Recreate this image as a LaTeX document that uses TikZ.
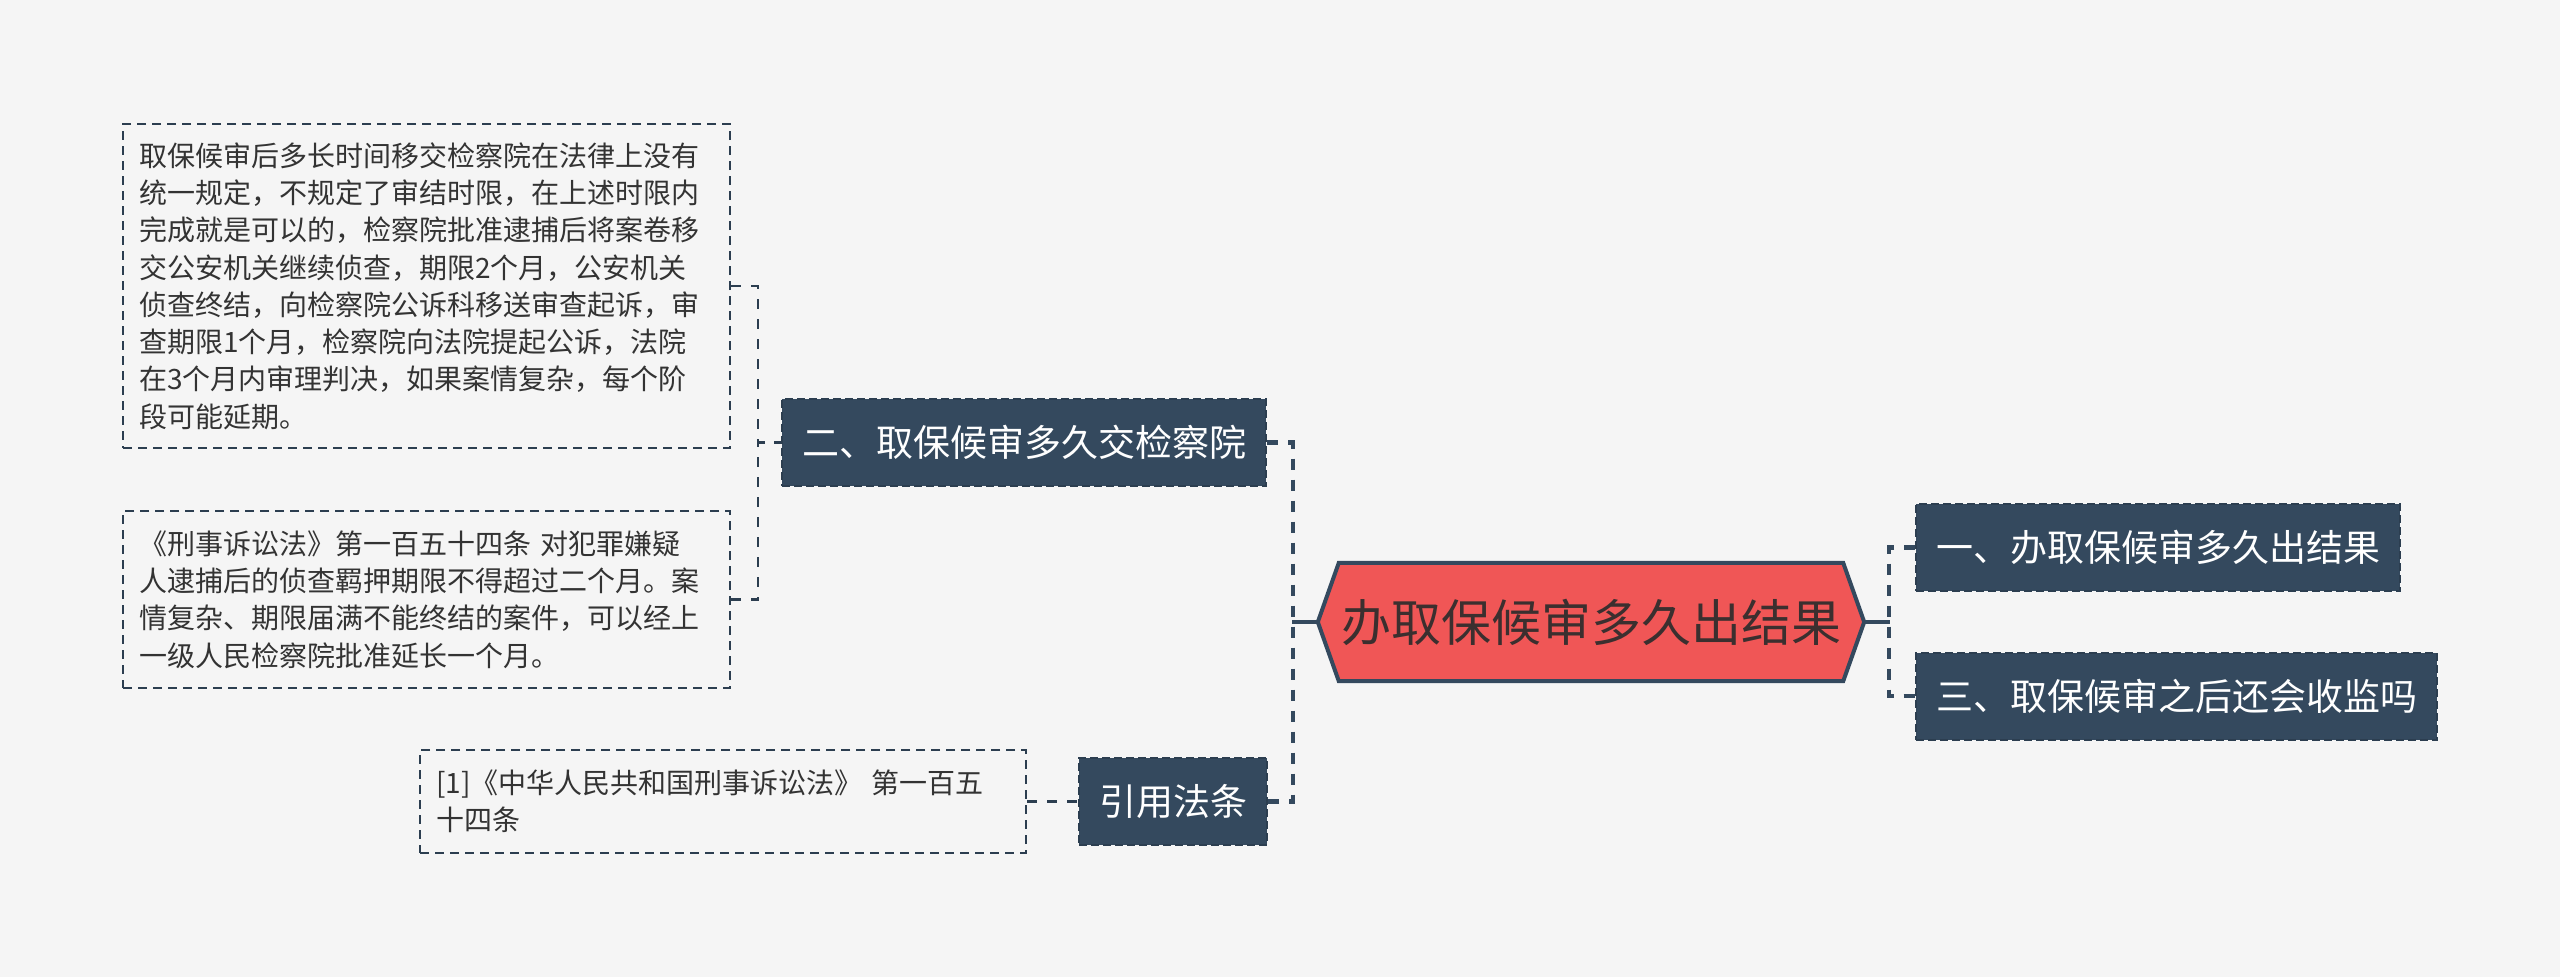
\documentclass[tikz,border=0pt]{standalone}
\usepackage{fontspec}
\setmainfont{Noto Sans CJK SC}
\usetikzlibrary{backgrounds}
\definecolor{bgc}{HTML}{F5F5F5}
\definecolor{navy}{HTML}{34495E}
\definecolor{navyline}{HTML}{2C3E50}
\definecolor{rootred}{HTML}{F05656}
\definecolor{roottxt}{HTML}{3B2F2F}
\definecolor{txt}{HTML}{333333}
\tikzset{
  rootnode/.style={inner sep=0pt, minimum width=546pt, minimum height=118pt, text=roottxt, font=\fontsize{50}{60}\selectfont},
  topic/.style={fill=navy, draw=navyline, line width=2pt, dash pattern=on 8pt off 4pt, text=white, inner xsep=20pt, inner ysep=0pt, minimum height=87pt, font=\fontsize{37}{44}\selectfont},
  detail/.style={draw=navyline, line width=2pt, dash pattern=on 9pt off 6pt, text=txt, inner xsep=16pt, inner ysep=0pt, minimum width=607pt, text width=575pt, align=left, font=\fontsize{28}{37.3}\selectfont},
  conn/.style={draw=navy, line width=4pt},
  dconn/.style={draw=navy, line width=4.5pt, dash pattern=on 11pt off 10pt},
  thinconn/.style={draw=navyline, line width=2.2pt, dash pattern=on 10pt off 10pt}
}
\begin{document}
\begin{tikzpicture}[x=1pt,y=-1pt]
\useasboundingbox (0,0) rectangle (2560,977);
\node[rootnode] (root) at (1591,622) {办取保候审多久出结果};
\node[topic] (n2) at (1024,442.5) {二、取保候审多久交检察院};
\node[topic] (n1) at (2158,547.5) {一、办取保候审多久出结果};
\node[topic] (n3) at (2176.5,696) {三、取保候审之后还会收监吗};
\node[topic] (nref) at (1173,801.5) {引用法条};
\node[detail, minimum height=324pt] (d1) at (426.5,286) {取保候审后多长时间移交检察院在法律上没有\\统一规定，不规定了审结时限，在上述时限内\\完成就是可以的，检察院批准逮捕后将案卷移\\交公安机关继续侦查，期限2个月，公安机关\\侦查终结，向检察院公诉科移送审查起诉，审\\查期限1个月，检察院向法院提起公诉，法院\\在3个月内审理判决，如果案情复杂，每个阶\\段可能延期。};
\node[detail, minimum height=177pt] (d2) at (426.5,599.5) {《刑事诉讼法》第一百五十四条 对犯罪嫌疑\\人逮捕后的侦查羁押期限不得超过二个月。案\\情复杂、期限届满不能终结的案件，可以经上\\一级人民检察院批准延长一个月。};
\node[detail, minimum width=606pt, text width=574pt, minimum height=103pt] (dref) at (723,801.5) {[1]《中华人民共和国刑事诉讼法》 第一百五\\十四条};
\begin{scope}[on background layer]
\fill[bgc] (0,0) rectangle (2560,977);
\draw[line width=4pt, draw=navy, fill=rootred, line join=miter]
  (root.west) -- ([xshift=21pt]root.north west) -- ([xshift=-21pt]root.north east)
  -- (root.east) -- ([xshift=-21pt]root.south east) -- ([xshift=21pt]root.south west) -- cycle;
\end{scope}
\draw[conn] (root.east) -- ++(26,0) coordinate (rj);
\draw[dconn] (n1.west) -- ++(-26,0) |- (n3.west);
\draw[conn] (root.west) -- ++(-26,0) coordinate (lj);
\draw[dconn] (n2.east) -- ++(26,0) |- (nref.east);
\draw[thinconn] (d1.east) -- ++(27,0) |- (n2.west);
\draw[thinconn] (d2.east) -- ++(27,0) |- (n2.west);
\draw[thinconn] (dref.east) -- (nref.west);
\end{tikzpicture}
\end{document}
